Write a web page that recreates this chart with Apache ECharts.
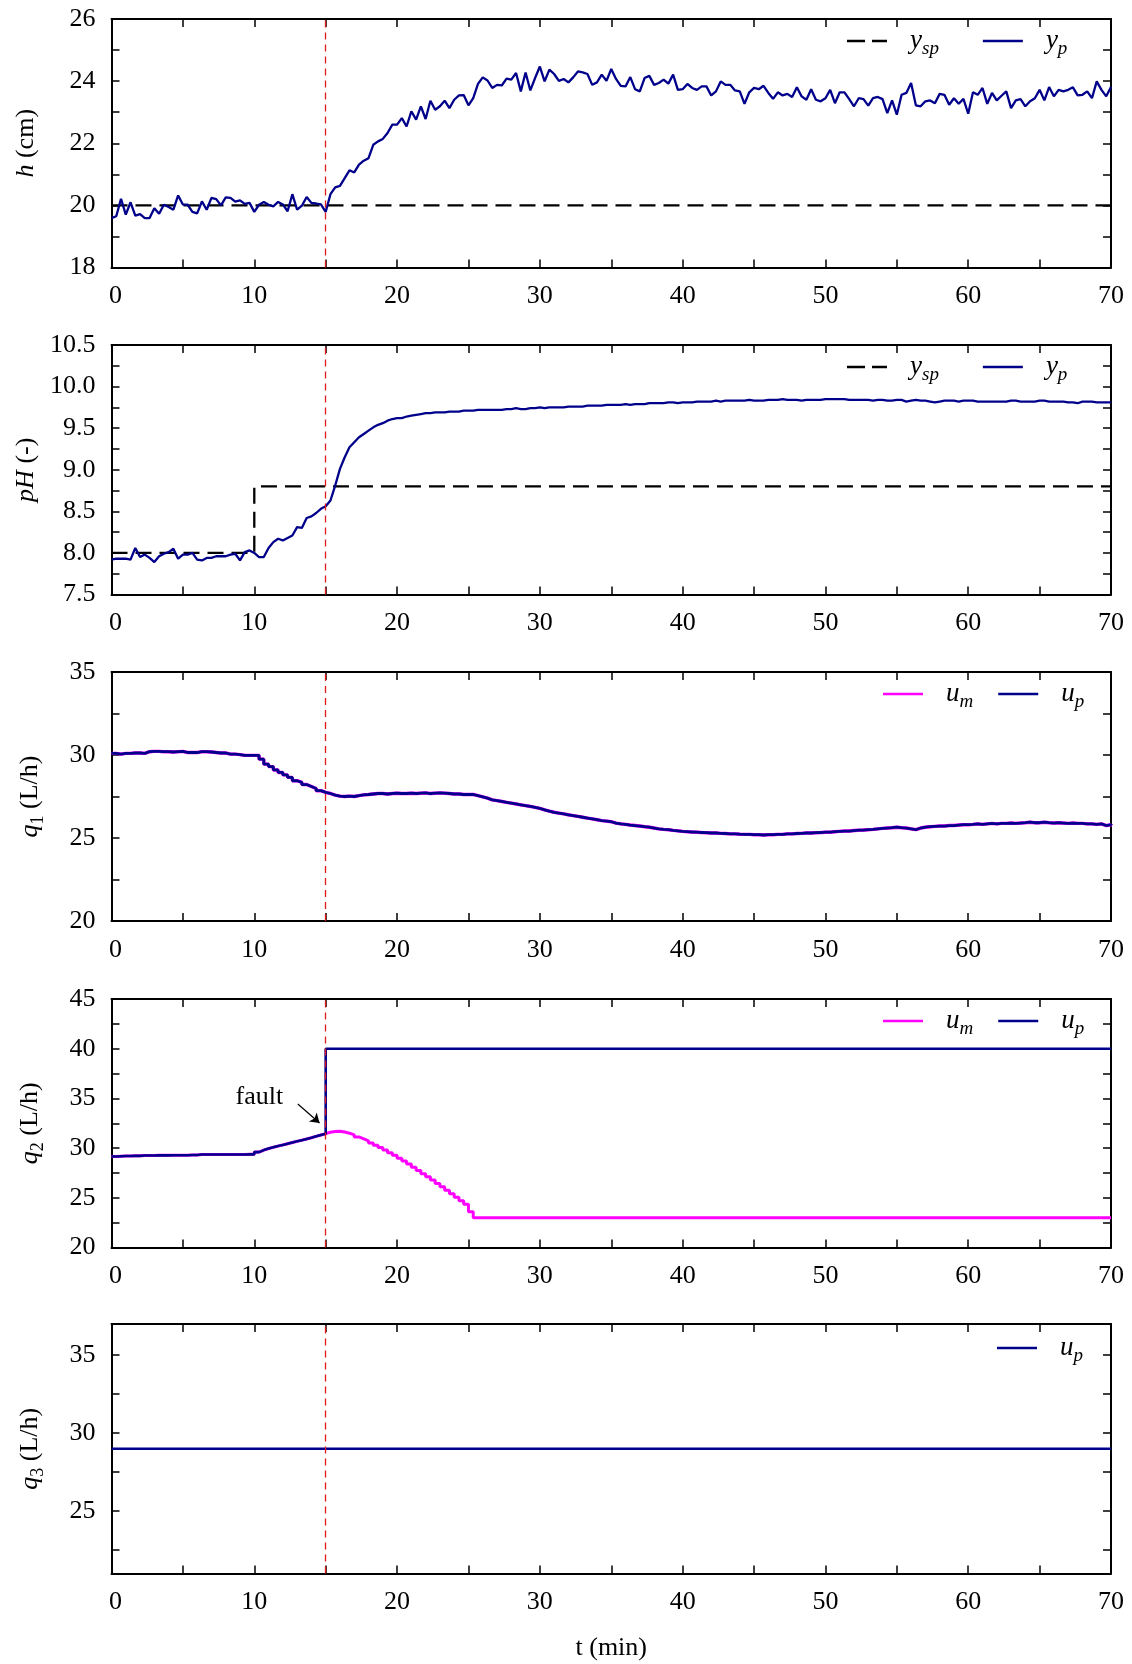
<!DOCTYPE html>
<html>
<head>
<meta charset="utf-8">
<script src="https://cdn.jsdelivr.net/npm/echarts@6/dist/echarts.min.js"></script>
<style>
html,body{margin:0;padding:0;background:#fff;}
#chart{width:1132px;height:1664px;}
</style>
</head>
<body>
<div id="chart"></div>
<script>
// ---- DATA (sampled every 1/3 min, t = i/3) ----
const SAMPLE_STEP_MIN = 1 / 3;
const FAULT_TIME = 15;

const h_setpoint_t = [0, 70];
const h_setpoint_v = [20, 20];
const h_measured = [
19.59,19.65,20.21,19.70,20.10,19.67,19.72,19.59,19.59,19.91,19.73,20.02,19.95,19.86,20.32,
20.03,20.02,19.79,19.74,20.13,19.86,20.24,20.20,20.00,20.26,20.24,20.12,20.16,20.05,20.08,
19.79,20.02,20.11,20.02,19.97,20.11,20.03,19.81,20.36,19.86,19.99,20.27,20.08,20.06,20.03,
19.79,20.36,20.58,20.63,20.88,21.13,21.06,21.31,21.44,21.52,21.95,22.06,22.14,22.33,22.60,
22.60,22.81,22.54,23.03,22.76,23.19,22.78,23.37,23.08,23.19,23.37,23.13,23.40,23.54,23.55,
23.22,23.45,23.91,24.12,24.02,23.78,23.88,23.86,24.08,24.05,24.26,23.67,24.28,23.70,24.10,
24.47,23.99,24.37,24.23,24.01,24.07,23.96,24.12,24.31,24.28,24.23,23.88,23.96,24.21,24.01,
24.39,24.07,23.85,23.83,24.13,23.74,23.67,24.10,24.17,23.88,23.94,24.05,23.92,24.21,23.72,
23.74,23.91,23.78,23.72,23.83,23.83,23.54,23.67,23.99,23.88,23.88,23.70,23.67,23.27,23.64,
23.78,23.74,23.85,23.62,23.43,23.64,23.54,23.59,23.49,23.80,23.51,23.40,23.74,23.40,23.35,
23.45,23.72,23.29,23.64,23.64,23.42,23.19,23.45,23.42,23.21,23.45,23.49,23.42,22.97,23.38,
22.92,23.56,23.62,23.94,23.22,23.19,23.35,23.38,23.29,23.59,23.56,23.24,23.45,23.27,23.43,
22.95,23.64,23.56,23.78,23.27,23.62,23.38,23.53,23.67,23.13,23.38,23.42,23.19,23.35,23.45,
23.72,23.38,23.81,23.51,23.72,23.67,23.72,23.80,23.54,23.56,23.67,23.45,23.99,23.72,23.51,
23.81];

const ph_setpoint_t = [0, 10, 10, 70];
const ph_setpoint_v = [8.0, 8.0, 8.8, 8.8];
const ph_measured = [
7.92,7.93,7.93,7.93,7.92,8.06,7.95,7.98,7.94,7.89,7.96,7.99,8.01,8.05,7.93,
7.98,7.98,8.00,7.92,7.91,7.94,7.94,7.96,7.96,7.96,7.98,7.99,7.91,8.01,8.03,
8.00,7.95,7.95,8.06,8.13,8.17,8.15,8.18,8.21,8.31,8.30,8.42,8.44,8.48,8.53,
8.56,8.63,8.81,9.01,9.15,9.27,9.33,9.39,9.43,9.47,9.51,9.54,9.56,9.59,9.61,
9.62,9.62,9.64,9.65,9.66,9.67,9.68,9.68,9.69,9.69,9.69,9.70,9.70,9.70,9.71,
9.71,9.71,9.72,9.72,9.72,9.72,9.72,9.72,9.73,9.73,9.74,9.73,9.73,9.74,9.74,
9.75,9.74,9.75,9.75,9.75,9.75,9.76,9.76,9.76,9.76,9.77,9.77,9.77,9.77,9.78,
9.78,9.78,9.78,9.79,9.78,9.79,9.79,9.79,9.80,9.80,9.80,9.80,9.81,9.81,9.80,
9.81,9.81,9.81,9.82,9.82,9.82,9.82,9.83,9.82,9.83,9.83,9.83,9.83,9.83,9.84,
9.83,9.83,9.83,9.84,9.84,9.84,9.85,9.84,9.84,9.84,9.83,9.84,9.84,9.84,9.84,
9.85,9.85,9.85,9.85,9.85,9.84,9.84,9.84,9.84,9.84,9.83,9.84,9.84,9.83,9.83,
9.84,9.84,9.82,9.83,9.84,9.83,9.83,9.82,9.81,9.82,9.83,9.83,9.83,9.82,9.83,
9.83,9.83,9.82,9.82,9.82,9.82,9.82,9.82,9.82,9.83,9.83,9.82,9.82,9.82,9.82,
9.83,9.83,9.82,9.82,9.82,9.82,9.81,9.81,9.80,9.82,9.82,9.82,9.81,9.81,9.81,
9.81];

// q1: model input u_m and plant input u_p coincide
const q1_plant = [
30.10,30.05,30.10,30.10,30.12,30.12,30.10,30.20,30.22,30.22,30.20,30.20,30.18,30.20,30.22,
30.15,30.15,30.15,30.20,30.20,30.18,30.15,30.12,30.12,30.05,30.05,30.02,29.98,29.98,29.98,
29.98,29.75,29.45,29.30,29.10,28.95,28.80,28.65,28.45,28.35,28.22,28.10,27.98,27.85,27.75,
27.68,27.58,27.52,27.50,27.52,27.50,27.55,27.60,27.62,27.65,27.68,27.68,27.65,27.68,27.70,
27.68,27.68,27.70,27.68,27.70,27.72,27.68,27.70,27.72,27.70,27.68,27.65,27.65,27.62,27.62,
27.62,27.55,27.48,27.40,27.30,27.25,27.20,27.15,27.10,27.05,27.00,26.95,26.90,26.84,26.78,
26.70,26.62,26.55,26.50,26.45,26.40,26.35,26.30,26.25,26.20,26.15,26.10,26.05,26.02,25.98,
25.90,25.85,25.82,25.78,25.75,25.72,25.68,25.65,25.60,25.55,25.52,25.50,25.46,25.43,25.40,
25.38,25.36,25.35,25.33,25.32,25.30,25.30,25.28,25.27,25.25,25.25,25.23,25.22,25.22,25.20,
25.20,25.18,25.20,25.20,25.22,25.22,25.25,25.25,25.27,25.28,25.30,25.30,25.32,25.33,25.35,
25.35,25.38,25.40,25.42,25.42,25.45,25.47,25.48,25.50,25.52,25.55,25.58,25.60,25.62,25.65,
25.62,25.60,25.55,25.50,25.60,25.65,25.68,25.70,25.72,25.72,25.75,25.75,25.78,25.80,25.80,
25.82,25.85,25.82,25.85,25.88,25.85,25.88,25.88,25.90,25.88,25.90,25.92,25.95,25.92,25.92,
25.95,25.92,25.90,25.92,25.90,25.88,25.90,25.88,25.88,25.85,25.85,25.82,25.85,25.75,25.80,
25.85];
const q1_model = q1_plant;

// q2: common part before the fault (t = 0 .. 14.67)
const q2_before_fault = [
29.15,29.18,29.20,29.20,29.22,29.22,29.25,29.25,29.25,29.27,29.27,29.27,29.28,29.28,29.28,
29.28,29.30,29.30,29.35,29.35,29.35,29.35,29.35,29.35,29.36,29.36,29.36,29.36,29.37,29.37,
29.60,29.80,29.95,30.08,30.20,30.32,30.44,30.56,30.68,30.80,30.92,31.04,31.18,31.32,31.45];
// model input after the fault (t = 15 .. 25.67), then held
const q2_model_after = [
31.60,31.68,31.70,31.62,31.50,31.33,31.12,30.93,30.73,30.52,30.29,30.05,29.80,29.54,29.27,
28.98,28.70,28.40,28.08,27.75,27.42,27.12,26.78,26.44,26.10,25.76,25.42,25.06,24.70,24.34,
23.60,23.00,23.00];
const q2_model_end = [70, 23.0];
const q2_plant_after_t = [15, 70];
const q2_plant_after_v = [40, 40];

const q3_t = [0, 70];
const q3_v = [29, 29];

// annotation "fault" (data coordinates)
const fault_text_at = [10.36, 35.14];
const fault_arrow_from = [13.05, 34.44];
const fault_arrow_to = [14.57, 32.53];

// ---- helpers ----
const FONT = '"Liberation Serif", "Times New Roman", serif';
const FS = 26;
const BLUE = '#00008B';
const MAG = '#FF00FF';
const RED = '#E31A1C';
function sampled(vals, start) {
  start = start || 0;
  return vals.map((v, i) => [(start + i) * SAMPLE_STEP_MIN, v]);
}
function zip(t, v) { return t.map((x, i) => [x, v[i]]); }

const GRIDS = [
  {top: 19, height: 248.5},
  {top: 345, height: 249.5},
  {top: 672, height: 249},
  {top: 999, height: 248.5},
  {top: 1324, height: 249.5}
];

const YCFG = [
  {min: 18, max: 26, interval: 1, lab: v => (v % 2 === 0 ? String(v) : ''), name: '{i|h}{n| (cm)}', gap: 70},
  {min: 7.5, max: 10.5, interval: 0.25, lab: v => (Math.abs(v * 2 - Math.round(v * 2)) < 1e-6 ? v.toFixed(1) : ''), name: '{i|pH}{n| (-)}', gap: 66},
  {min: 20, max: 35, interval: 2.5, lab: v => (Math.abs(v % 5) < 1e-6 ? String(v) : ''), name: '{i|q}{s|1}{n| (L/h)}', gap: 66},
  {min: 20, max: 45, interval: 2.5, lab: v => (Math.abs(v % 5) < 1e-6 ? String(v) : ''), name: '{i|q}{s|2}{n| (L/h)}', gap: 66},
  {min: 21, max: 37, custom: true, name: '{i|q}{s|3}{n| (L/h)}', gap: 66}
];

const richName = {
  i: {fontFamily: FONT, fontStyle: 'italic', fontSize: FS, color: '#000', lineHeight: 28, verticalAlign: 'top'},
  s: {fontFamily: FONT, fontSize: 18, color: '#000', lineHeight: 18, padding: [12, 0, 0, 0], verticalAlign: 'top'},
  n: {fontFamily: FONT, fontSize: FS, color: '#000', lineHeight: 28, verticalAlign: 'top'}
};

const xAxes = [], yAxes = [], grids = [];
GRIDS.forEach((g, k) => {
  grids.push({left: 111.5, right: 21, top: g.top, height: g.height, show: false, outerBoundsMode: 'none'});
  const common = {
    type: 'value', gridIndex: k, min: 0, max: 70, interval: 5,
    axisLine: {show: true, onZero: false, lineStyle: {color: '#000', width: 2}},
    axisTick: {show: true, inside: true, length: 8, lineStyle: {color: '#000', width: 1.5}},
    splitLine: {show: false}
  };
  const xb = Object.assign({}, common, {
    position: 'bottom',
    axisLabel: {show: true, margin: 16, fontFamily: FONT, fontSize: FS, color: '#000',
      showMinLabel: true, showMaxLabel: true,
      formatter: v => (v === 0 ? '{z|0}' : (v % 10 === 0 ? String(v) : '')),
      rich: {z: {fontFamily: FONT, fontSize: FS, color: '#000', padding: [0, 0, 0, 8]}}}
  });
  if (k === 4) {
    xb.name = 't (min)';
    xb.nameLocation = 'middle';
    xb.nameGap = 62;
    xb.nameTextStyle = {fontFamily: FONT, fontSize: FS, color: '#000'};
  }
  xAxes.push(xb);
  xAxes.push(Object.assign({}, common, {position: 'top', axisLabel: {show: false}}));

  const c = YCFG[k];
  const ycommon = {
    type: 'value', gridIndex: k, min: c.min, max: c.max,
    axisLine: {show: true, onZero: false, lineStyle: {color: '#000', width: 2}},
    axisTick: {show: true, inside: true, length: 8, lineStyle: {color: '#000', width: 1.5}},
    splitLine: {show: false}
  };
  if (c.custom) {
    ycommon.axisTick.customValues = [22.5, 25, 27.5, 30, 32.5, 35];
  } else {
    ycommon.interval = c.interval;
  }
  const yl = Object.assign({}, ycommon, {
    position: 'left',
    name: c.name, nameLocation: 'middle', nameGap: c.gap, nameRotate: 90,
    nameTextStyle: {rich: richName},
    axisLabel: c.custom
      ? {show: true, margin: 16, fontFamily: FONT, fontSize: FS, color: '#000', customValues: [25, 30, 35]}
      : {show: true, margin: 16, fontFamily: FONT, fontSize: FS, color: '#000', formatter: c.lab,
         showMinLabel: true, showMaxLabel: true}
  });
  yAxes.push(yl);
  yAxes.push(Object.assign({}, ycommon, {
    position: 'right',
    axisTick: Object.assign({}, ycommon.axisTick),
    axisLabel: {show: false}
  }));
});

function faultLine() {
  return {
    silent: true, symbol: 'none', animation: false,
    label: {show: false},
    lineStyle: {color: RED, type: [7, 5], width: 1.3},
    data: [{xAxis: FAULT_TIME}]
  };
}

function lineSeries(name, k, data, color, opts) {
  return Object.assign({
    name: name, type: 'line', xAxisIndex: 2 * k, yAxisIndex: 2 * k,
    data: data, showSymbol: false, symbol: 'none', animation: false,
    lineStyle: {color: color, width: 2.3}, itemStyle: {color: color},
    emphasis: {disabled: true}
  }, opts || {});
}

const series = [
  lineSeries('h_sp', 0, zip(h_setpoint_t, h_setpoint_v), '#000', {lineStyle: {color: '#000', width: 2.3, type: [16, 8]}}),
  lineSeries('h_p', 0, sampled(h_measured), BLUE, {markLine: faultLine()}),

  lineSeries('pH_sp', 1, zip(ph_setpoint_t, ph_setpoint_v), '#000', {lineStyle: {color: '#000', width: 2.3, type: [16, 8]}}),
  lineSeries('pH_p', 1, sampled(ph_measured), BLUE, {markLine: faultLine()}),

  lineSeries('q1_m', 2, sampled(q1_model), MAG, {step: 'end', lineStyle: {color: MAG, width: 3.4}}),
  lineSeries('q1_p', 2, sampled(q1_plant), BLUE, {step: 'end', lineStyle: {color: BLUE, width: 2.8}, markLine: faultLine()}),

  lineSeries('q2_m', 3,
    sampled(q2_before_fault).concat(sampled(q2_model_after, q2_before_fault.length)).concat([q2_model_end]),
    MAG, {step: 'end', lineStyle: {color: MAG, width: 3.0}, markLine: faultLine()}),
  lineSeries('q2_p', 3,
    sampled(q2_before_fault).concat(zip(q2_plant_after_t, q2_plant_after_v)),
    BLUE, {step: 'end', lineStyle: {color: BLUE, width: 2.6},
      markLine: {
        silent: true, animation: false, symbol: ['none', 'arrow'], symbolSize: 9,
        label: {show: false},
        lineStyle: {color: '#000', type: 'solid', width: 1.2},
        data: [[{coord: fault_arrow_from}, {coord: fault_arrow_to}]]
      },
      markPoint: {
        silent: true, animation: false,
        data: [{coord: fault_text_at, symbol: 'circle', symbolSize: 0,
          label: {show: true, position: 'inside', formatter: 'fault', fontFamily: FONT, fontSize: FS, color: '#000'}}]
      }
    }),

  lineSeries('q3_p', 4, zip(q3_t, q3_v), BLUE, {lineStyle: {color: BLUE, width: 2.6}, markLine: faultLine()})
];

const LEG_LABEL = {
  h_sp: '{g|}{v|y}{s|sp}', h_p: '{g|}{v|y}{s|p}',
  pH_sp: '{g|}{v|y}{s|sp}', pH_p: '{g|}{v|y}{s|p}',
  q1_m: '{g|}{v|u}{s|m}', q1_p: '{g|}{v|u}{s|p}',
  q2_m: '{g|}{v|u}{s|m}', q2_p: '{g|}{v|u}{s|p}',
  q3_p: '{g|}{v|u}{s|p}'
};
const ICON_SOLID = 'path://M0,0h40v2.5h-40z';
const ICON_DASH = 'path://M0,0h18v2.5h-18z M25,0h15v2.5h-15z';
const legRich = {
  g: {width: 18},
  v: {fontFamily: FONT, fontStyle: 'italic', fontSize: 27, color: '#000', lineHeight: 28, verticalAlign: 'top'},
  s: {fontFamily: FONT, fontStyle: 'italic', fontSize: 19, color: '#000', lineHeight: 19, padding: [12, 0, 0, 0], verticalAlign: 'top'}
};
function legend(items, left, top, gap) {
  return {
    data: items.map(it => ({name: it[0], icon: it[1] ? ICON_DASH : ICON_SOLID})),
    left: left, top: top, orient: 'horizontal', padding: 0,
    itemWidth: 40, itemHeight: 2.5, itemGap: gap, selectedMode: false,
    formatter: n => LEG_LABEL[n],
    textStyle: {rich: legRich}
  };
}

const option = {
  backgroundColor: '#fff',
  animation: false,
  grid: grids,
  xAxis: xAxes,
  yAxis: yAxes,
  legend: [
    legend([['h_sp', true], ['h_p', false]], 847, 27, 44),
    legend([['pH_sp', true], ['pH_p', false]], 847, 353, 44),
    legend([['q1_m', false], ['q1_p', false]], 883, 680, 25),
    legend([['q2_m', false], ['q2_p', false]], 883, 1007, 25),
    legend([['q3_p', false]], 997, 1334, 25)
  ],
  series: series
};

const chart = echarts.init(document.getElementById('chart'), null, {renderer: 'canvas'});
chart.setOption(option);
</script>
</body>
</html>
